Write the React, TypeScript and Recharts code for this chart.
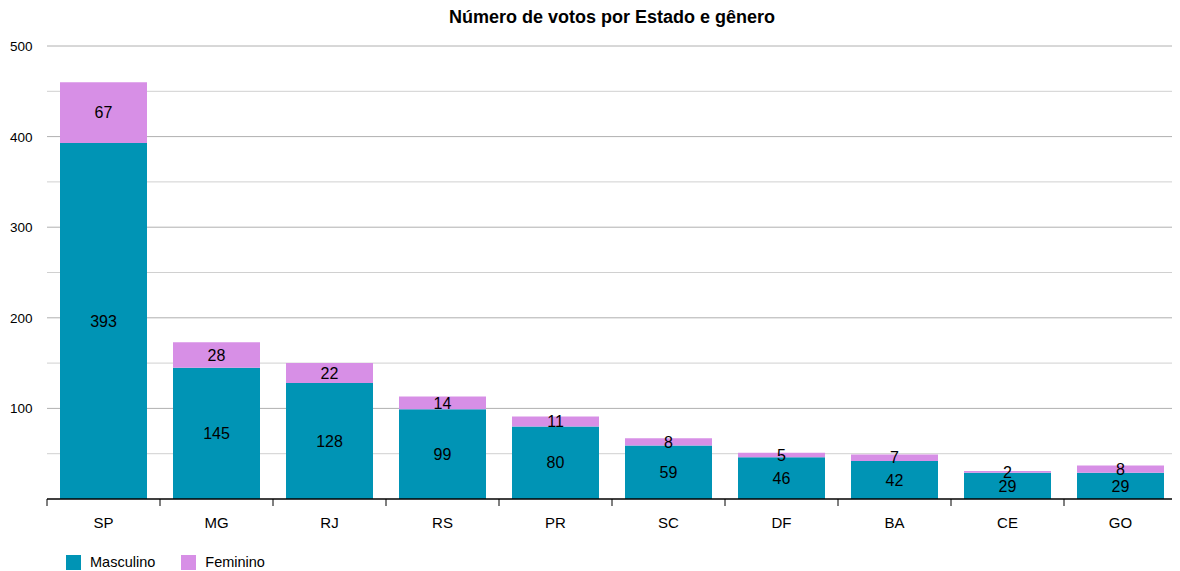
import React from "react";
import { BarChart, Bar, XAxis, YAxis, CartesianGrid, LabelList } from "recharts";

const states = ["SP", "MG", "RJ", "RS", "PR", "SC", "DF", "BA", "CE", "GO"];
const masculino = [393, 145, 128, 99, 80, 59, 46, 42, 29, 29];
const feminino = [67, 28, 22, 14, 11, 8, 5, 7, 2, 8];
const yTicks = [0, 50, 100, 150, 200, 250, 300, 350, 400, 450, 500];
const labeledTicks = [100, 200, 300, 400, 500];
const minorTicks = [50, 150, 250, 350, 450];

const data = states.map((s, i) => ({ state: s, Masculino: masculino[i], Feminino: feminino[i] }));

const W = 1180;
const H = 571;
const M = { top: 46, right: 3, bottom: 32, left: 10 };
const Y_W = 37;
const X_H = 40;
const BLUE = "#0094b5";
const PINK = "#d78fe6";
const FONT = "'Liberation Sans', Arial, Helvetica, sans-serif";

const plotW = W - M.left - M.right - Y_W;
const band = plotW / states.length;

const XTick = (props: any) => {
  const { x, y, payload, index } = props;
  const half = band / 2;
  return (
    <g>
      <line x1={x - half} y1={y - 8} x2={x - half} y2={y - 1} stroke="#000" strokeWidth={1} />
      {index === states.length - 1 && (
        <line x1={x + half} y1={y - 8} x2={x + half} y2={y - 1} stroke="#000" strokeWidth={1} />
      )}
      <text x={x} y={y + 21} textAnchor="middle" fontSize={15} fontFamily={FONT} fill="#000">
        {payload.value}
      </text>
    </g>
  );
};

const YTick = (props: any) => {
  const { y, payload } = props;
  if (!labeledTicks.includes(payload.value)) return null;
  return (
    <text x={10} y={y + 5} textAnchor="start" fontSize={13.5} fontFamily={FONT} fill="#000">
      {payload.value}
    </text>
  );
};

export default function App() {
  return (
    <div style={{ position: "relative", width: W, height: H, margin: "-8px 0 0 -8px", background: "#fff" }}>
      <div
        style={{
          position: "absolute",
          top: 7,
          left: M.left + Y_W,
          width: plotW,
          textAlign: "center",
          fontFamily: FONT,
          fontWeight: "bold",
          fontSize: 18,
          color: "#000",
        }}
      >
        Número de votos por Estado e gênero
      </div>
      <BarChart width={W} height={H} data={data} margin={M} barSize={87}>
        <CartesianGrid vertical={false} horizontalValues={minorTicks} stroke="#d0d0d0" strokeWidth={1} />
        <CartesianGrid vertical={false} horizontalValues={labeledTicks} stroke="#b0b0b0" strokeWidth={1} />
        <XAxis
          dataKey="state"
          height={X_H}
          axisLine={{ stroke: "#000", strokeWidth: 1.5 }}
          tickLine={false}
          tick={<XTick />}
          interval={0}
        />
        <YAxis
          width={Y_W}
          domain={[0, 500]}
          ticks={yTicks}
          axisLine={false}
          tickLine={false}
          tick={<YTick />}
          interval={0}
        />
        <Bar dataKey="Masculino" stackId="a" fill={BLUE} isAnimationActive={false}>
          <LabelList dataKey="Masculino" position="center" fill="#000" fontSize={16} fontFamily={FONT} />
        </Bar>
        <Bar dataKey="Feminino" stackId="a" fill={PINK} isAnimationActive={false}>
          <LabelList dataKey="Feminino" position="center" fill="#000" fontSize={16} fontFamily={FONT} />
        </Bar>
      </BarChart>
      <div
        style={{
          position: "absolute",
          left: 0,
          top: 554,
          display: "flex",
          alignItems: "center",
          fontFamily: FONT,
          fontSize: 14.5,
          color: "#000",
        }}
      >
        <span style={{ display: "inline-block", width: 15, height: 15, background: BLUE, marginLeft: 66 }} />
        <span style={{ marginLeft: 9 }}>Masculino</span>
        <span style={{ display: "inline-block", width: 15, height: 15, background: PINK, marginLeft: 26 }} />
        <span style={{ marginLeft: 9 }}>Feminino</span>
      </div>
    </div>
  );
}
